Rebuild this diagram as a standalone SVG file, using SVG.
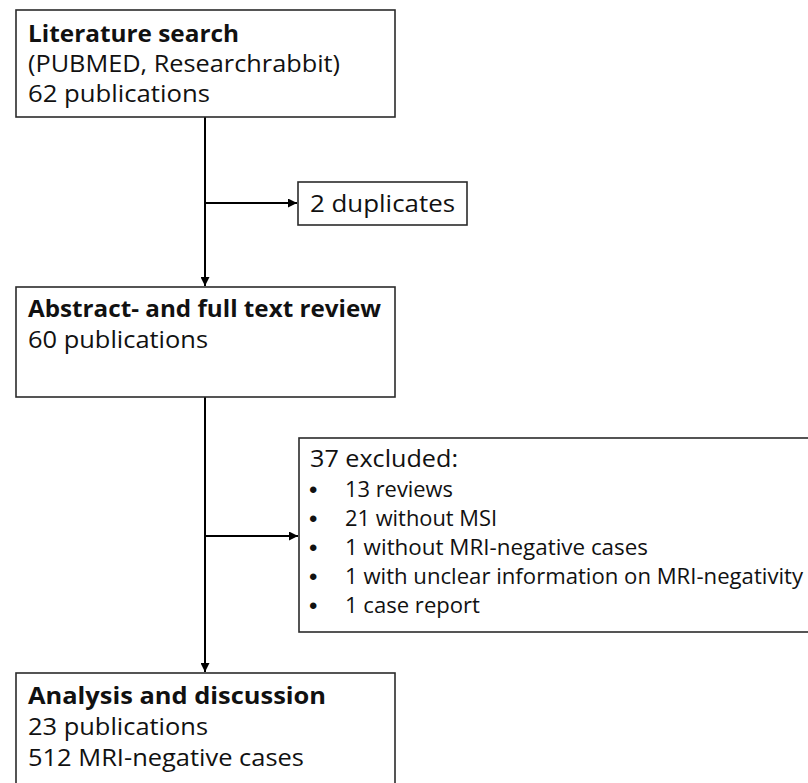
<svg xmlns="http://www.w3.org/2000/svg" width="808" height="783" viewBox="0 0 808 783">
<defs>
<style>
.box{fill:#fff;stroke:#2b2b2b;stroke-width:1.6}
.t{font-family:"Open Sans","Liberation Sans",sans-serif;font-size:23px;fill:#111}
.b{font-weight:bold}
.s{font-family:"Open Sans","Liberation Sans",sans-serif;font-size:21px;fill:#111}
.d{font-family:"Liberation Sans",sans-serif;font-size:24px;fill:#111}
.c{fill:none;stroke:#000;stroke-width:2}
</style>
<marker id="ah" viewBox="0 0 10 10" refX="10" refY="5" markerWidth="9" markerHeight="9" markerUnits="userSpaceOnUse" orient="auto">
<path d="M0,0 L10,5 L0,10 z" fill="#000"/>
</marker>
</defs>
<rect width="808" height="783" fill="#fff"/>
<g id="connectors">
<path class="c" d="M205,117 V286" marker-end="url(#ah)"/>
<path class="c" d="M205,203 H297" marker-end="url(#ah)"/>
<path class="c" d="M205,397 V672" marker-end="url(#ah)"/>
<path class="c" d="M205,536 H298" marker-end="url(#ah)"/>
</g>
<g id="literature-search">
<rect class="box" x="16" y="10" width="379" height="107"/>
<text class="t b" x="28" y="42" textLength="211" lengthAdjust="spacingAndGlyphs">Literature search</text>
<text class="t" x="28" y="72" textLength="312" lengthAdjust="spacingAndGlyphs">(PUBMED, Researchrabbit)</text>
<text class="t" x="28" y="102" textLength="182" lengthAdjust="spacingAndGlyphs">62 publications</text>
</g>
<g id="duplicates">
<rect class="box" x="298" y="182" width="169" height="43"/>
<text class="t" x="310" y="212" textLength="145" lengthAdjust="spacingAndGlyphs">2 duplicates</text>
</g>
<g id="review">
<rect class="box" x="16" y="287" width="379" height="110"/>
<text class="t b" x="28" y="317" textLength="353" lengthAdjust="spacingAndGlyphs">Abstract- and full text review</text>
<text class="t" x="28" y="348" textLength="180" lengthAdjust="spacingAndGlyphs">60 publications</text>
</g>
<g id="excluded">
<rect class="box" x="299" y="438" width="520" height="194"/>
<text class="t" x="310" y="467" textLength="148" lengthAdjust="spacingAndGlyphs">37 excluded:</text>
<g class="d">
<text x="309" y="498">•</text>
<text x="309" y="527">•</text>
<text x="309" y="556">•</text>
<text x="309" y="585">•</text>
<text x="309" y="614">•</text>
</g>
<g class="s">
<text x="345" y="497" textLength="108" lengthAdjust="spacingAndGlyphs">13 reviews</text>
<text x="345" y="526" textLength="152" lengthAdjust="spacingAndGlyphs">21 without MSI</text>
<text x="345" y="555" textLength="303" lengthAdjust="spacingAndGlyphs">1 without MRI-negative cases</text>
<text x="345" y="584" textLength="458" lengthAdjust="spacingAndGlyphs">1 with unclear information on MRI-negativity</text>
<text x="345" y="613" textLength="135" lengthAdjust="spacingAndGlyphs">1 case report</text>
</g>
</g>
<g id="analysis">
<rect class="box" x="16" y="673" width="379" height="120"/>
<text class="t b" x="28" y="704" textLength="298" lengthAdjust="spacingAndGlyphs">Analysis and discussion</text>
<text class="t" x="28" y="735" textLength="180" lengthAdjust="spacingAndGlyphs">23 publications</text>
<text class="t" x="28" y="766" textLength="276" lengthAdjust="spacingAndGlyphs">512 MRI-negative cases</text>
</g>
</svg>
